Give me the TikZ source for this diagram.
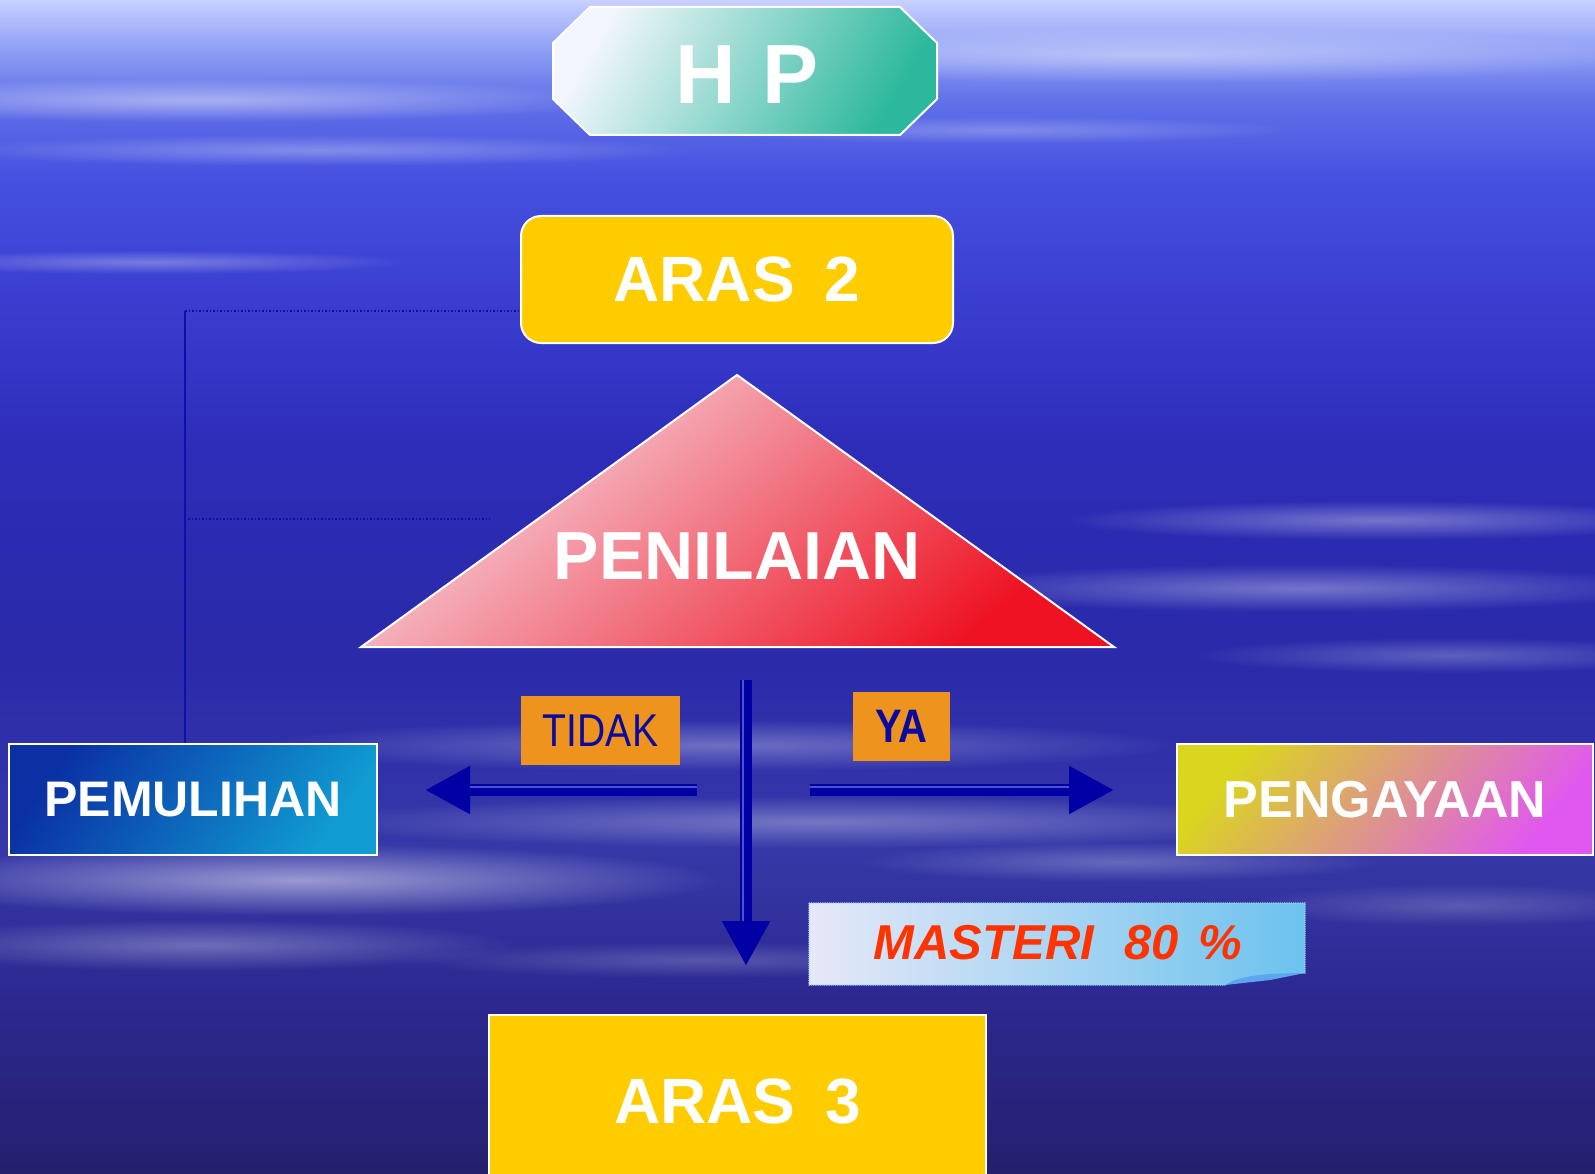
\documentclass[tikz,border=0pt]{standalone}
\usepackage{fontspec}
\setmainfont{Liberation Sans}
\newfontfamily\narrowfont[FakeStretch=0.85]{Liberation Sans}
\usetikzlibrary{arrows.meta,fadings}
\definecolor{arasyellow}{HTML}{FFCC00}
\definecolor{tagorange}{HTML}{EE941E}
\definecolor{arrowblue}{HTML}{0000A4}
\definecolor{stripeblue}{HTML}{4A56C8}
\definecolor{labelblue}{HTML}{0A0AA0}
\definecolor{linkblue}{HTML}{0A10A8}
\definecolor{mastred}{HTML}{FF3300}
\definecolor{hpA}{HTML}{F2F6FC}
\definecolor{hpB}{HTML}{A6DCD4}
\definecolor{hpC}{HTML}{2CB89C}
\definecolor{triA}{HTML}{F6DCE6}
\definecolor{triB}{HTML}{F2949C}
\definecolor{triC}{HTML}{EE1222}
\definecolor{pemA}{HTML}{0A30A4}
\definecolor{pemC}{HTML}{109CD2}
\definecolor{pengA}{HTML}{DAD61E}
\definecolor{pengB}{HTML}{E2A8B0}
\definecolor{pengC}{HTML}{E058F0}
\definecolor{mastA}{HTML}{E6E8F8}
\definecolor{mastC}{HTML}{6CC2EE}
\definecolor{s0}{HTML}{C8D0FF}
\definecolor{s1}{HTML}{98A8F8}
\definecolor{s2}{HTML}{6070E8}
\definecolor{s3}{HTML}{4550E0}
\definecolor{s4}{HTML}{3A3ED0}
\definecolor{s5}{HTML}{2C2CB8}
\definecolor{s6}{HTML}{2A2AAA}
\definecolor{s7}{HTML}{3638A8}
\definecolor{s8}{HTML}{2C2890}
\definecolor{s9}{HTML}{24206E}
\pgfdeclareverticalshading{sky}{100bp}{color(0bp)=(s9); color(25bp)=(s9); color(32.4bp)=(s8); color(38.8bp)=(s7); color(47.3bp)=(s6); color(55.8bp)=(s5); color(62.2bp)=(s4); color(67.3bp)=(s3); color(70.7bp)=(s2); color(73.3bp)=(s1); color(75bp)=(s0); color(100bp)=(s0)}
\tikzfading[name=fuzzy, inner color=transparent!0, outer color=transparent!100]
\tikzset{
  boxtext/.style={text=white, font=\bfseries},
  whiteedge/.style={draw=white, line width=2pt},
  arasbox/.style={whiteedge, fill=arasyellow, boxtext, font=\bfseries\fontsize{64}{70}\selectfont},
  tagbox/.style={fill=tagorange, text=labelblue, inner sep=0pt},
  bigarrow/.style={draw=arrowblue, line width=12pt, -{Triangle[length=45pt,width=45pt]}},
  stripe/.style={draw=stripeblue, line width=2pt},
  linkdot/.style={draw=linkblue, line width=1.5pt, dotted},
  linksolid/.style={draw=linkblue, line width=1.5pt},
  cloud/.style={fill=white, path fading=fuzzy}
}
\begin{document}
\begin{tikzpicture}[x=1pt,y=-1pt]
\clip (0,0) rectangle (1595,1174);
\useasboundingbox (0,0) rectangle (1595,1174);
% background
\shade[shading=sky] (0,0) rectangle (1595,1174);
\foreach \cx/\cy/\rx/\ry/\op in {200/100/420/22/0.45, 1150/55/520/28/0.4, 320/150/380/16/0.3, 1000/130/300/14/0.25, 150/262/260/12/0.3, 1380/520/320/20/0.35, 1300/588/380/24/0.35, 1450/655/260/18/0.25, 720/745/460/26/0.3, 820/822/520/26/0.32, 300/880/420/36/0.5, 200/945/320/26/0.3, 1120/862/260/20/0.25, 1460/905/220/22/0.2, 700/960/300/18/0.2}
  {\fill[cloud, fill opacity=\op] (\cx,\cy) ellipse [x radius=\rx pt, y radius=\ry pt];}
% HP octagon
\shade[whiteedge, top color=hpA, middle color=hpB, bottom color=hpC, shading angle=60]
  (590,7) -- (900,7) -- (937,43) -- (937,99) -- (900,135) -- (590,135) -- (553,99) -- (553,43) -- cycle;
\node[boxtext, font=\bfseries\fontsize{84}{90}\selectfont, inner sep=0pt] (hp) at (747,75) {H\hspace{26pt}P};
% ARAS 2
\node[arasbox, rounded corners=20pt, minimum width=432pt, minimum height=127pt, inner sep=0pt] (aras2) at (737,279.5) {ARAS\hspace{30pt}2};
% triangle
\shade[whiteedge, top color=triA, middle color=triB, bottom color=triC, shading angle=40]
  (737,375) -- (1114,647) -- (361,647) -- cycle;
\node[boxtext, font=\bfseries\fontsize{68}{74}\selectfont, inner sep=0pt] (pen) at (737,556) {PENILAIAN};
% PEMULIHAN / PENGAYAAN
\node[whiteedge, top color=pemA, bottom color=pemC, shading angle=55, boxtext, font=\bfseries\fontsize{50}{56}\selectfont, minimum width=368pt, minimum height=111pt, inner sep=0pt] (pem) at (193,799.5) {PEMULIHAN};
\node[whiteedge, top color=pengA, middle color=pengB, bottom color=pengC, shading angle=50, boxtext, font=\bfseries\fontsize{52}{58}\selectfont, minimum width=416pt, minimum height=111pt, inner sep=0pt] (peng) at (1385,799.5) {PENGAYAAN};
% tags
\node[tagbox, minimum width=159pt, minimum height=69pt, font=\narrowfont\fontsize{46}{50}\selectfont] (tidak) at (600.5,730.5) {TIDAK};
\node[tagbox, minimum width=97pt, minimum height=69pt, font=\narrowfont\bfseries\fontsize{47}{50}\selectfont] (ya) at (901.5,726.5) {YA};
% ARAS 3
\node[arasbox, minimum width=497pt, minimum height=172pt, inner sep=0pt, text depth=0pt] (aras3) at (737.5,1101) {ARAS\hspace{30pt}3};
% MASTERI label
\shade[left color=mastA, right color=mastC, draw=mastC!70!white, line width=1.2pt, densely dotted]
  (809,903) -- (1305,903) -- (1305,973) .. controls (1265,974) and (1240,978) .. (1225,985) -- (809,985) -- cycle;
\fill[mastC!85!blue] (1225,985) .. controls (1238,976) and (1265,973) .. (1305,973) -- (1270,980) -- cycle;
\node[text=mastred, font=\bfseries\itshape\fontsize{49}{54}\selectfont, inner sep=0pt] (mast) at (1058,943) {MASTERI\hspace{30pt}80\hspace{20pt}\%};
% links
\coordinate (c1) at (185,311);
\coordinate (c2) at (188,519);
\coordinate (c3) at (490,519);
\draw[linkdot] (c1) -- (aras2.west |- c1);
\draw[linksolid] (c1) -- (pem.north -| c1);
\draw[linkdot] (c2) -- (c3);
% arrows
\coordinate (vs) at (746,680);
\coordinate (vt) at (746,966);
\coordinate (ls) at (697,790);
\coordinate (lt) at (425,790);
\coordinate (rs) at (810,790);
\coordinate (rt) at (1114,790);
\draw[bigarrow] (vs) -- (vt);
\draw[stripe] ([xshift=-3pt]vs) -- ([xshift=-3pt,yshift=45pt]vt);
\draw[bigarrow] (ls) -- (lt);
\draw[stripe] ([yshift=3pt]ls) -- ([xshift=45pt,yshift=3pt]lt);
\draw[bigarrow] (rs) -- (rt);
\draw[stripe] ([yshift=3pt]rs) -- ([xshift=-45pt,yshift=3pt]rt);
\end{tikzpicture}
\end{document}
